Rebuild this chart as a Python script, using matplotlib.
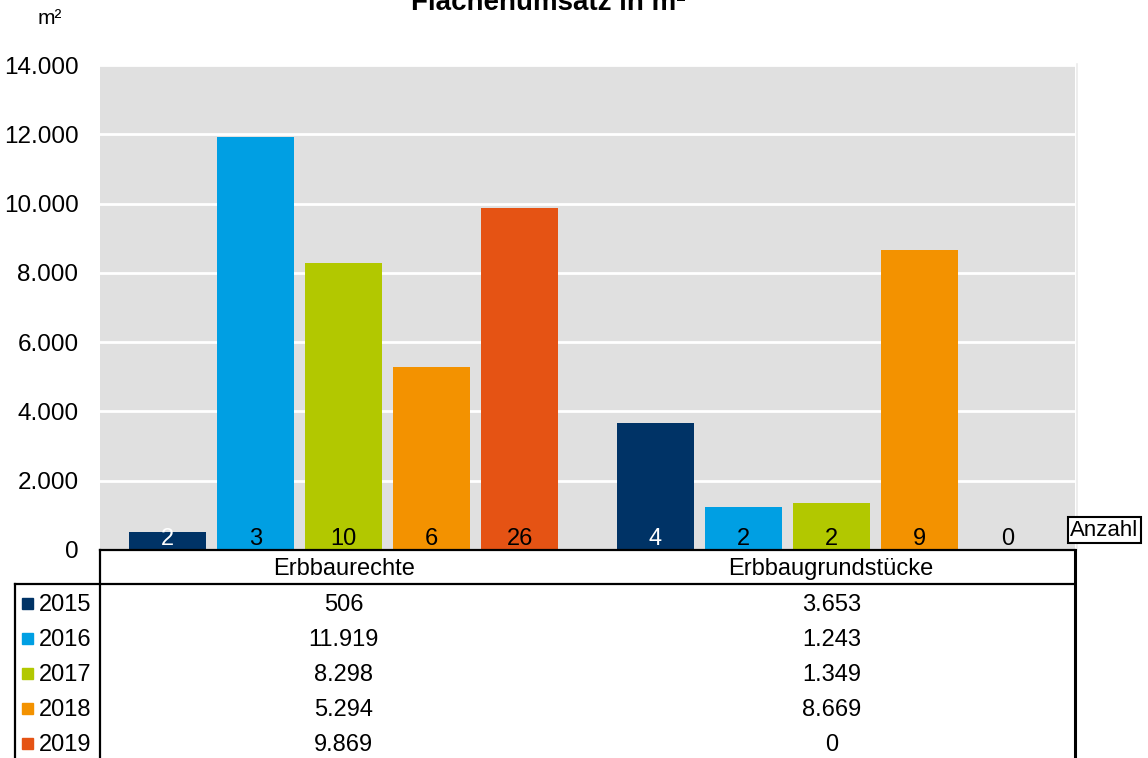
import matplotlib
matplotlib.use("Agg")
import matplotlib.pyplot as plt
import numpy as np

plt.rcParams['font.family'] = ['Liberation Sans', 'DejaVu Sans']

categories = ["Erbbaurechte", "Erbbaugrundstücke"]
years = ["2015", "2016", "2017", "2018", "2019"]
area_m2 = {
    "2015": [506, 3653],
    "2016": [11919, 1243],
    "2017": [8298, 1349],
    "2018": [5294, 8669],
    "2019": [9869, 0],
}
counts = {
    "2015": [2, 4],
    "2016": [3, 2],
    "2017": [10, 2],
    "2018": [6, 9],
    "2019": [26, 0],
}
colors = {
    "2015": "#003366",
    "2016": "#009FE3",
    "2017": "#B2C800",
    "2018": "#F39200",
    "2019": "#E55314",
}
label_colors = {"2015": "white", "2016": "black", "2017": "black",
                "2018": "black", "2019": "black"}
yticks = [0, 2000, 4000, 6000, 8000, 10000, 12000, 14000]


def de_fmt(v):
    return f"{v:,.0f}".replace(",", ".")


W, H = 1148, 758
fig = plt.figure(figsize=(W / 100, H / 100), dpi=100)
FS = 17

# plot area in pixel coordinates
px_l, px_r, px_t, px_b = 100, 1075, 65, 550
ax = fig.add_axes([px_l / W, 1 - px_b / H, (px_r - px_l) / W, (px_b - px_t) / H])
ax.set_facecolor("#E0E0E0")
ax.set_ylim(0, 14000)
ax.set_xlim(-0.5, len(categories) - 0.5)
ax.set_yticks(yticks)
ax.set_yticklabels([de_fmt(v) for v in yticks], fontsize=17.5)
ax.tick_params(axis="y", length=0, pad=15.5)
ax.tick_params(axis="x", length=0, labelbottom=False)
ax.grid(axis="y", color="white", linewidth=2)
ax.set_axisbelow(True)
for s in ax.spines.values():
    s.set_visible(False)

x = np.arange(len(categories))
step = 0.1805
width = 0.158
for i, yr in enumerate(years):
    pos = x + (i - 2) * step
    ax.bar(pos, area_m2[yr], width=width, color=colors[yr], zorder=3)
    for p, c in zip(pos, counts[yr]):
        ax.annotate(str(c), (p, 0), xytext=(0, 0), textcoords="offset points",
                    ha="center", va="bottom", fontsize=FS,
                    color=label_colors[yr], zorder=4)

# overlay for title, unit, table and legend keys (pixel coordinates)
ov = fig.add_axes([0, 0, 1, 1], zorder=5)
ov.set_xlim(0, W)
ov.set_ylim(H, 0)
ov.axis("off")
ov.patch.set_alpha(0)

ov.plot([1077, 1077], [64, 550], color="#EBEBEB", lw=1.2)
ov.text(548, 10, "Flächenumsatz in m²", ha="center", va="baseline",
        fontsize=20, fontweight="bold")
ov.text(50, 18, "m²", ha="center", va="center", fontsize=15)

# "Anzahl" box
ov.text(1104.5, 530, "Anzahl", ha="center", va="center", fontsize=16,
        bbox=dict(boxstyle="square,pad=0.12", fc="white", ec="black", lw=1.5))

# data table
lc = "black"
lw = 1.6
hdr_top, hdr_bot = 550, 584
row_h = 35
left_col = 15
ov.fill_between([px_l, px_r], hdr_top, H, color="white", zorder=1)
ov.fill_between([left_col, px_l], hdr_bot, H, color="white", zorder=1)
ov.plot([px_l, px_r], [hdr_top, hdr_top], color=lc, lw=lw, zorder=2)
ov.plot([left_col, px_r], [hdr_bot, hdr_bot], color=lc, lw=lw, zorder=2)
ov.plot([px_l, px_l], [hdr_top, H], color=lc, lw=lw, zorder=2)
ov.plot([left_col, left_col], [hdr_bot, H], color=lc, lw=lw, zorder=2)
ov.plot([px_r, px_r], [hdr_top, H], color=lc, lw=2.2, zorder=2)

col_w = (px_r - px_l) / len(categories)
col_centers = [px_l + col_w * (j + 0.5) for j in range(len(categories))]
for j, cat in enumerate(categories):
    ov.text(col_centers[j], (hdr_top + hdr_bot) / 2 + 2, cat, ha="center",
            va="center", fontsize=FS, zorder=3)

for i, yr in enumerate(years):
    yc = hdr_bot + 20 + i * row_h
    ov.add_patch(plt.Rectangle((22, yc - 6), 11, 11, color=colors[yr], zorder=3))
    ov.text(39, yc + 1, yr, ha="left", va="center", fontsize=FS, zorder=3)
    for j in range(len(categories)):
        ov.text(col_centers[j], yc + 1, de_fmt(area_m2[yr][j]), ha="center",
                va="center", fontsize=FS, zorder=3)

fig.savefig("out.png", dpi=100)
